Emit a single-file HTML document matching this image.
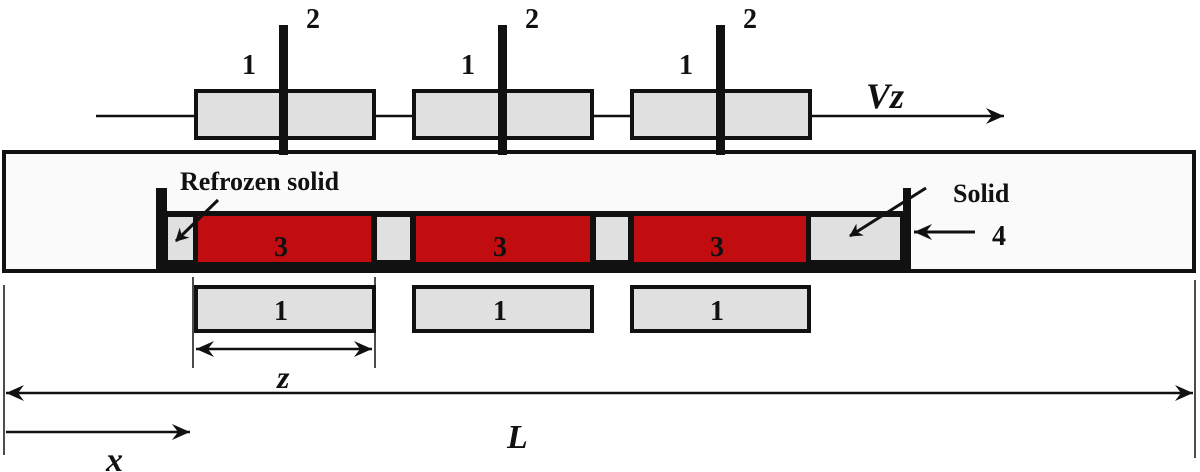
<!DOCTYPE html>
<html><head><meta charset="utf-8"><style>body{margin:0;background:#fff}svg{display:block}text{font-family:"Liberation Serif",serif;font-weight:bold;fill:#111}</style></head>
<body>
<svg width="1200" height="472" viewBox="0 0 1200 472" xmlns="http://www.w3.org/2000/svg">
<defs>
<marker id="ah" markerWidth="14" markerHeight="14" refX="12" refY="7" orient="auto" markerUnits="userSpaceOnUse"><path d="M0,0 L13,7 L0,14 L4,7 Z" fill="#111"/></marker>
<marker id="as" markerWidth="22" markerHeight="22" refX="18" refY="9" orient="auto-start-reverse" markerUnits="userSpaceOnUse"><path d="M0,1 L18,9 L0,17 L6,9 Z" fill="#111"/></marker>
</defs>
<line x1="96" y1="116" x2="1004" y2="116" stroke="#111" stroke-width="2.5" marker-end="url(#as)"/>
<g fill="#e0e0e0" stroke="#111" stroke-width="4">
<rect x="196" y="91" width="178" height="47"/>
<rect x="414" y="91" width="178" height="47"/>
<rect x="632" y="91" width="178" height="47"/>
</g>
<rect x="4" y="152" width="1190" height="119" fill="#fbfafa" stroke="#111" stroke-width="4"/>
<g fill="#111">
<rect x="279" y="25" width="9" height="130"/>
<rect x="498" y="25" width="9" height="130"/>
<rect x="716" y="25" width="9" height="130"/>
</g>
<text x="242" y="74" font-size="28">1</text><text x="306" y="28" font-size="28">2</text>
<text x="461" y="74" font-size="28">1</text><text x="525" y="28" font-size="28">2</text>
<text x="679" y="74" font-size="28">1</text><text x="743" y="28" font-size="28">2</text>
<text x="866" y="108" font-size="36" font-style="italic">Vz</text>
<rect x="163" y="211" width="742" height="55" fill="#111"/>
<rect x="156" y="188" width="11" height="84" fill="#111"/>
<rect x="903" y="188" width="8" height="80" fill="#111"/>
<rect x="156" y="262" width="755" height="10" fill="#111"/>
<g fill="#e0e0e0">
<rect x="168" y="217" width="25" height="43"/>
<rect x="377" y="217" width="33" height="43"/>
<rect x="596" y="217" width="32" height="43"/>
<rect x="811" y="217" width="89" height="43"/>
</g>
<g fill="#c20d10">
<rect x="198" y="216" width="173" height="46"/>
<rect x="416" y="216" width="174" height="46"/>
<rect x="634" y="216" width="172" height="46"/>
</g>
<text x="274" y="256" font-size="28" fill="#3a0808">3</text>
<text x="493" y="256" font-size="28" fill="#3a0808">3</text>
<text x="710" y="256" font-size="28" fill="#3a0808">3</text>
<text x="180" y="190" font-size="26">Refrozen solid</text>
<line x1="218" y1="200" x2="176" y2="241" stroke="#111" stroke-width="3" marker-end="url(#ah)"/>
<text x="953" y="202" font-size="26">Solid</text>
<line x1="926" y1="188" x2="850" y2="236" stroke="#111" stroke-width="3" marker-end="url(#ah)"/>
<line x1="975" y1="232" x2="914" y2="232" stroke="#111" stroke-width="3" marker-end="url(#as)"/>
<text x="992" y="245" font-size="28">4</text>
<g fill="#e0e0e0" stroke="#111" stroke-width="4">
<rect x="196" y="287" width="178" height="44"/>
<rect x="414" y="287" width="178" height="44"/>
<rect x="632" y="287" width="177" height="44"/>
</g>
<text x="274" y="320" font-size="28">1</text>
<text x="493" y="320" font-size="28">1</text>
<text x="710" y="320" font-size="28">1</text>
<g stroke="#111" stroke-width="1.5">
<line x1="193" y1="277" x2="193" y2="368"/>
<line x1="375" y1="277" x2="375" y2="368"/>
<line x1="4" y1="285" x2="4" y2="455"/>
<line x1="1195" y1="280" x2="1195" y2="458"/>
</g>
<line x1="196" y1="349" x2="372" y2="349" stroke="#111" stroke-width="2.5" marker-start="url(#as)" marker-end="url(#as)"/>
<text x="277" y="388" font-size="32" font-style="italic">z</text>
<line x1="6" y1="393" x2="1193" y2="393" stroke="#111" stroke-width="2.5" marker-start="url(#as)" marker-end="url(#as)"/>
<text x="507" y="448" font-size="34" font-style="italic">L</text>
<line x1="6" y1="432" x2="190" y2="432" stroke="#111" stroke-width="2.5" marker-end="url(#as)"/>
<text x="106" y="471" font-size="34" font-style="italic">x</text>
</svg>
</body></html>
